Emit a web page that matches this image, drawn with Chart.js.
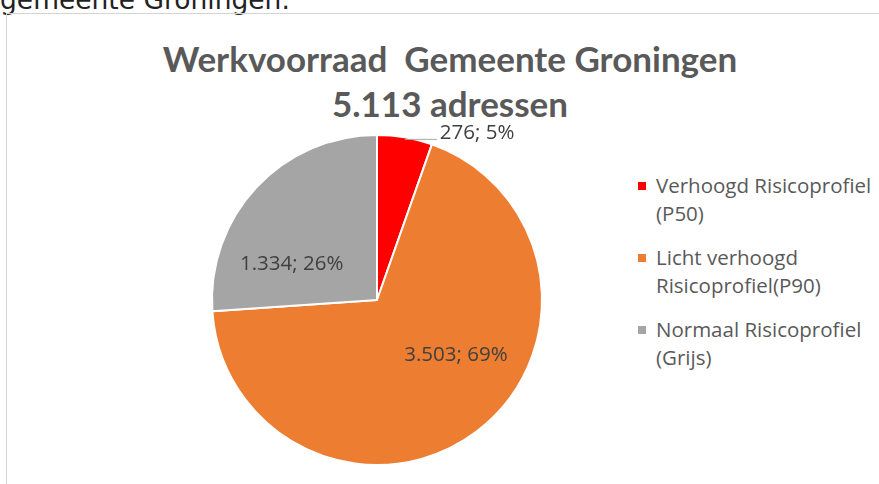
<!DOCTYPE html>
<html>
<head>
<meta charset="utf-8">
<script src="https://cdn.jsdelivr.net/npm/chart.js@4/dist/chart.umd.min.js"></script>
<style>
  html, body { margin: 0; padding: 0; background: #fff; overflow: hidden; }
  #wrap { position: relative; width: 879px; height: 484px; }
  #above { position: absolute; left: 0; top: -16px; font-family: 'DejaVu Sans'; font-size: 26.5px; color: #222; }
  #box { position: absolute; left: 6px; top: 13px; width: 900px; height: 500px; border: 1px solid #d4d4d4; box-sizing: border-box; }
  #title { position: absolute; left: 0; width: 900px; top: 36px; text-align: center; font-family: Lato; font-weight: bold; font-size: 35px; color: #595959; line-height: 45px; }
  #legend { position: absolute; left: 638px; top: 171px; font-family: 'Open Sans'; font-size: 20.5px; color: #595959; line-height: 28px; }
  #legend .item { position: relative; padding-left: 18px; margin-bottom: 16px; white-space: nowrap; }
  #legend .sw { position: absolute; left: 0; top: 11px; width: 8px; height: 8px; }
  canvas { position: absolute; left: 0; top: 0; }
</style>
</head>
<body>
<div id="wrap">
  <div id="above">gemeente Groningen.</div>
  <div id="box"></div>
  <div id="title">Werkvoorraad&nbsp; Gemeente Groningen<br>5.113 adressen</div>
  <div id="legend"></div>
  <canvas id="pie" width="879" height="484"></canvas>
</div>
<script>
const categories = [['Verhoogd Risicoprofiel', '(P50)'], ['Licht verhoogd', 'Risicoprofiel(P90)'], ['Normaal Risicoprofiel', '(Grijs)']];
const values = [276, 3503, 1334];
const percentLabels = ['276; 5%', '3.503; 69%', '1.334; 26%'];
const colors = ['#FF0000', '#ED7D31', '#A5A5A5'];

// html legend (labels wrap on two lines like the original)
var legend = document.getElementById('legend');
categories.forEach(function (lines, i) {
    var div = document.createElement('div');
    div.className = 'item';
    div.innerHTML = '<span class="sw" style="background:' + colors[i] + '"></span>' + lines.join('<br>');
    legend.appendChild(div);
});

// nudges for the labels inside the slices
var labelShift = [[0, 0], [29, -11], [-25, 20]];

var sliceLabels = {
    id: 'sliceLabels',
    afterDatasetsDraw: function (chart) {
        var ctx = chart.ctx;
        var meta = chart.getDatasetMeta(0);
        ctx.save();
        ctx.font = '20.5px "Open Sans"';
        ctx.fillStyle = '#404040';
        ctx.textBaseline = 'middle';
        meta.data.forEach(function (arc, i) {
            if (i === 0) {
                // small slice: label outside with a leader line
                var mid = (arc.startAngle + arc.endAngle) / 2;
                var x0 = arc.x + Math.cos(mid) * arc.outerRadius;
                var y0 = arc.y + Math.sin(mid) * arc.outerRadius + 2;
                ctx.strokeStyle = '#A6A6A6';
                ctx.lineWidth = 1;
                ctx.beginPath();
                ctx.moveTo(x0, y0);
                ctx.lineTo(x0 + 32, y0);
                ctx.stroke();
                ctx.textAlign = 'left';
                ctx.fillText(percentLabels[i], x0 + 35, y0 - 6);
            } else {
                var p = arc.tooltipPosition();
                ctx.textAlign = 'center';
                ctx.fillText(percentLabels[i], p.x + labelShift[i][0], p.y + labelShift[i][1]);
            }
        });
        ctx.restore();
    }
};

var ctx = document.getElementById('pie');
var myChart = new Chart(ctx, {
    type: 'pie',
    plugins: [sliceLabels],
    data: {
        labels: categories.map(function (l) { return l.join(' '); }),
        datasets: [{
            data: values,
            backgroundColor: colors,
            borderColor: '#fff',
            borderWidth: 2,
        }]
    },
    options: {
        responsive: false,
        animation: false,
        layout: {
            padding: { top: 134, bottom: 18, left: 211, right: 336 },
        },
        plugins: {
            legend: { display: false },
            tooltip: { enabled: false },
        },
    },
});
</script>
</body>
</html>
